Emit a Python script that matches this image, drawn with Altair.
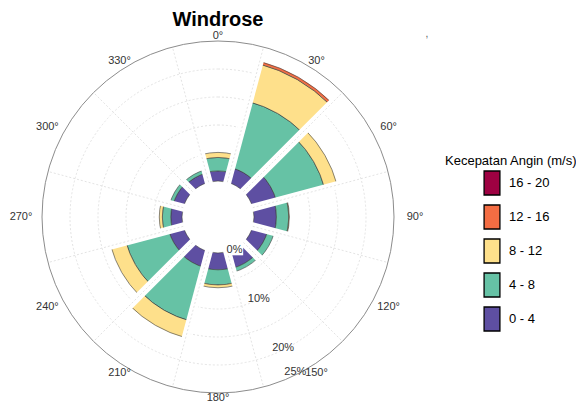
import altair as alt
import pandas as pd

# ---------------- data ----------------
directions = [0, 30, 60, 90, 120, 150, 180, 210, 240, 270, 300, 330]
bins = ["0 - 4", "4 - 8", "8 - 12", "12 - 16", "16 - 20"]
s0_4 = [1.8, 2.7, 4.4, 4.0, 2.8, 3.1, 3.0, 2.9, 2.7, 2.0, 1.9, 1.7]
s4_8 = [2.4, 12.2, 8.9, 2.2, 1.2, 0.7, 2.7, 9.9, 7.9, 1.5, 0.6, 0.6]
s8_12 = [0.9, 7.0, 2.3, 0.1, 0.0, 0.0, 0.5, 3.1, 2.8, 0.55, 0.0, 0.0]
s12_16 = [0.0, 0.45, 0.0, 0.0, 0.0, 0.0, 0.0, 0.0, 0.0, 0.0, 0.0, 0.0]
s16_20 = [0.0, 0.0, 0.0, 0.0, 0.0, 0.0, 0.0, 0.0, 0.0, 0.0, 0.0, 0.0]
series = [s0_4, s4_8, s8_12, s12_16, s16_20]
bin_colors = ["#5E4FA2", "#66C2A5", "#FEE08B", "#F46D43", "#9E0142"]
angle_ticks = [0, 30, 60, 90, 120, 150, 180, 210, 240, 270, 300, 330]
radial_ticks = [0, 10, 20, 25]
grid_pcts = [5, 10, 15, 20]
r_max_pct = 25

# ---------------- layout ----------------
CX, CY = 210, 209          # polar centre inside the view
HOLE, R = 36, 176          # pixel radius of 0 % and 25 %
FONT = "Liberation Sans"
theta_scale = alt.Scale(domain=[0, 360], range=[0, 6.283185307179586])
rad_scale = alt.Scale(type="linear", domain=[0, r_max_pct], range=[HOLE, R])

# stacked segments
rows = []
for i, d in enumerate(directions):
    cum = 0.0
    for b, vals in zip(bins, series):
        v = vals[i]
        if v > 0:
            rows.append({"dir": d, "bin": b, "t0": d - 15, "t1": d + 15,
                         "r0": cum, "r1": cum + v, "order": bins.index(b)})
            cum += v
seg_df = pd.DataFrame(rows)

totals = [sum(s[i] for s in series) for i in range(len(directions))]
gap_rows = []
for i, d in enumerate(directions):
    j = (i + 1) % len(directions)
    top = max(totals[i], totals[j])
    gap_rows.append({"a": d + 15, "rs": HOLE - 6,
                     "re": HOLE + top * (R - HOLE) / r_max_pct + 2})
gap_df = pd.DataFrame(gap_rows)
spoke_df = pd.DataFrame({"a": [d + 15 for d in directions]})
grid_df = pd.DataFrame({"pct": grid_pcts, "t0": 0, "t1": 360})
outer_df = pd.DataFrame({"pct": [r_max_pct], "t0": [0], "t1": [360]})
ang_df = pd.DataFrame({"a": angle_ticks, "label": [f"{a}°" for a in angle_ticks]})
rad_df = pd.DataFrame({"pct": radial_ticks, "label": [f"{p}%" for p in radial_ticks]})

legend_order = bins[::-1]
legend_colors = bin_colors[::-1]

# ---------------- layers ----------------
grid = alt.Chart(grid_df).mark_arc(fill="transparent", stroke="#dcdcdc",
                                   strokeWidth=0.8, strokeDash=[2, 2]).encode(
    x=alt.value(CX), y=alt.value(CY),
    theta=alt.Theta("t0:Q", scale=theta_scale, stack=None), theta2="t1:Q",
    radius=alt.Radius("pct:Q", scale=rad_scale, stack=None), radius2=alt.value(0),
)

bars = alt.Chart(seg_df).mark_arc(stroke="#3a3a3a", strokeWidth=0.6).encode(
    x=alt.value(CX), y=alt.value(CY),
    theta=alt.Theta("t0:Q", scale=theta_scale, stack=None), theta2="t1:Q",
    radius=alt.Radius("r1:Q", scale=rad_scale, stack=None), radius2="r0:Q",
    color=alt.Color("bin:N", scale=alt.Scale(domain=legend_order, range=legend_colors),
                    legend=alt.Legend(
                        title="Kecepatan Angin (m/s)", orient="none",
                        legendX=437, legendY=147,
                        titleFont=FONT, titleFontSize=13, titleFontWeight="normal",
                        titleColor="black", titlePadding=2, titleLimit=300,
                        labelFont=FONT, labelFontSize=13, labelColor="black",
                        symbolType="M-0.66,-1H0.66V1H-0.66Z", symbolSize=576,
                        symbolStrokeColor="black", symbolStrokeWidth=1.3,
                        symbolOffset=34, labelOffset=4, rowPadding=4,
                        symbolOpacity=1)),
    order=alt.Order("order:Q"),
)

gaps = alt.Chart(gap_df).transform_calculate(
    x0=f"{CX} + datum.rs * sin(datum.a * PI / 180)",
    y0=f"{CY} - datum.rs * cos(datum.a * PI / 180)",
    x1=f"{CX} + datum.re * sin(datum.a * PI / 180)",
    y1=f"{CY} - datum.re * cos(datum.a * PI / 180)",
).mark_rule(color="white", strokeWidth=8, strokeCap="butt").encode(
    x=alt.X("x0:Q", scale=None), y=alt.Y("y0:Q", scale=None), x2="x1:Q", y2="y1:Q")

spokes = alt.Chart(spoke_df).transform_calculate(
    x0=f"{CX} + {HOLE} * sin(datum.a * PI / 180)",
    y0=f"{CY} - {HOLE} * cos(datum.a * PI / 180)",
    x1=f"{CX} + {R} * sin(datum.a * PI / 180)",
    y1=f"{CY} - {R} * cos(datum.a * PI / 180)",
).mark_rule(color="#dcdcdc", strokeWidth=0.8, strokeDash=[2, 2]).encode(
    x=alt.X("x0:Q", scale=None), y=alt.Y("y0:Q", scale=None), x2="x1:Q", y2="y1:Q")

outer = alt.Chart(outer_df).mark_arc(fill="transparent", stroke="#8c8c8c",
                                     strokeWidth=1).encode(
    x=alt.value(CX), y=alt.value(CY),
    theta=alt.Theta("t0:Q", scale=theta_scale, stack=None), theta2="t1:Q",
    radius=alt.Radius("pct:Q", scale=rad_scale, stack=None), radius2=alt.value(0),
)

ang_labels = alt.Chart(ang_df).transform_calculate(
    px=f"{CX} + 197 * sin(datum.a * PI / 180)",
    py=f"{CY} - 180.7 * cos(datum.a * PI / 180)",
).mark_text(font=FONT, fontSize=11, color="#333333", align="center",
            baseline="middle").encode(
    x=alt.X("px:Q", scale=None), y=alt.Y("py:Q", scale=None), text="label:N")

rad_pos = alt.Chart(rad_df).transform_calculate(
    px=f"{CX} + ({HOLE + 1} + datum.pct * 5.45) * sin(153.5 * PI / 180)",
    py=f"{CY} - ({HOLE + 1} + datum.pct * 5.45) * cos(153.5 * PI / 180)",
)
rad_box = rad_pos.transform_filter("datum.pct == 0").mark_point(
    shape="M-1,-0.6H1V0.6H-1Z", size=300, filled=True, color="white", opacity=1
).encode(x=alt.X("px:Q", scale=None), y=alt.Y("py:Q", scale=None))
rad_labels = rad_pos.mark_text(font=FONT, fontSize=11, color="#333333",
                               align="center", baseline="middle").encode(
    x=alt.X("px:Q", scale=None), y=alt.Y("py:Q", scale=None), text="label:N")

title = alt.Chart(pd.DataFrame({"t": ["Windrose"]})).mark_text(
    font=FONT, fontSize=20, fontWeight="bold", color="black",
    align="center", baseline="alphabetic").encode(
    x=alt.value(CX), y=alt.value(18), text="t:N")

comma = alt.Chart(pd.DataFrame({"t": [","]})).mark_text(
    font=FONT, fontSize=10, color="#555555", align="center").encode(
    x=alt.value(419), y=alt.value(26), text="t:N")

chart = alt.layer(grid, bars, gaps, spokes, outer, ang_labels, rad_box,
                  rad_labels, title, comma).properties(
    width=568, height=398, padding=0,
    autosize=alt.AutoSizeParams(type="none"),
    background="white",
).configure_view(stroke=None)

chart.save("out.html", embed_options={"renderer": "svg", "actions": False})
